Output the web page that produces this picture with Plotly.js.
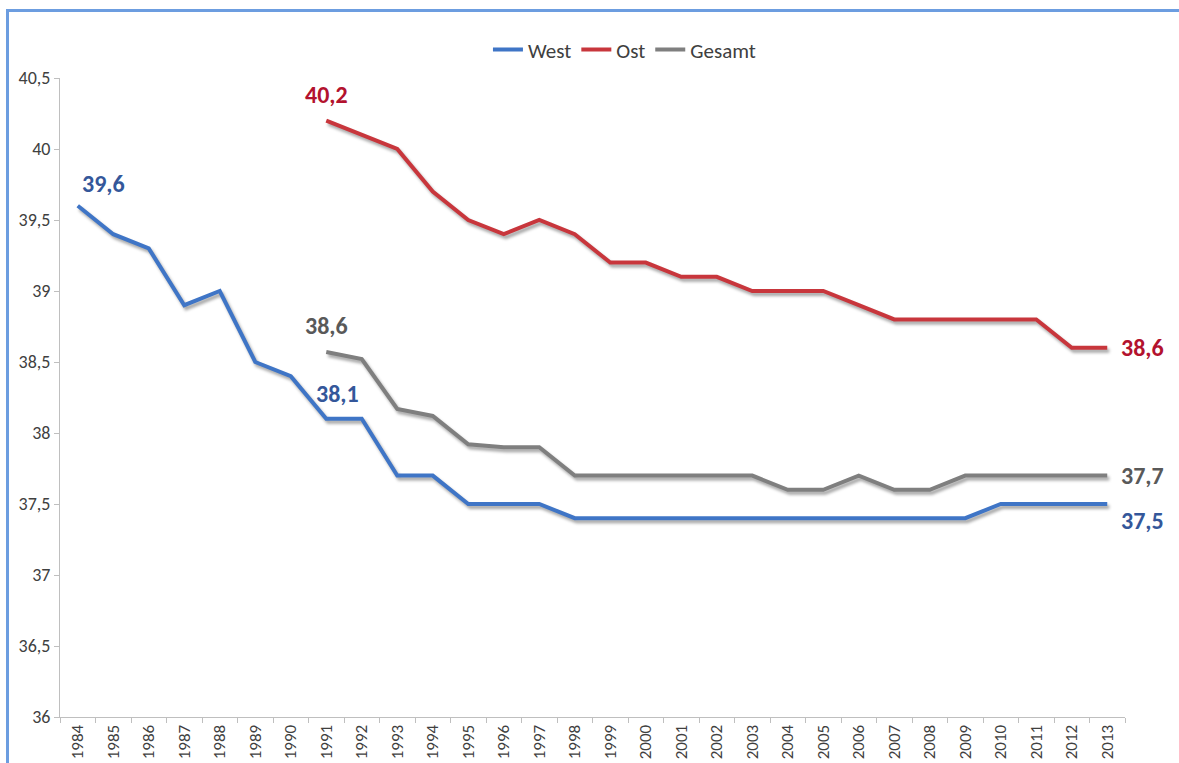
<!DOCTYPE html>
<html>
<head>
<meta charset="utf-8">
<script src="https://cdn.plot.ly/plotly-3.0.1.min.js"></script>
<style>
  html, body { margin: 0; padding: 0; background: #fff; overflow: hidden; }
  #wrap { position: relative; width: 1179px; height: 763px; }
  #chart { width: 1179px; height: 763px; }
  #frame { position: absolute; left: 6px; top: 9px; width: 1200px; height: 800px;
           border-top: 3px solid #6C9DE0; border-left: 3px solid #6C9DE0; pointer-events: none; }
  #chart .scatterlayer .js-line { filter: drop-shadow(2px 3px 1.5px rgba(0,0,0,0.35)); }
</style>
</head>
<body>
<div id="wrap">
  <div id="chart"></div>
  <div id="frame"></div>
</div>
<script>
const years = ['1984','1985','1986','1987','1988','1989','1990','1991','1992','1993','1994','1995','1996','1997','1998','1999','2000','2001','2002','2003','2004','2005','2006','2007','2008','2009','2010','2011','2012','2013'];
const west = [39.6,39.4,39.3,38.9,39.0,38.5,38.4,38.1,38.1,37.7,37.7,37.5,37.5,37.5,37.4,37.4,37.4,37.4,37.4,37.4,37.4,37.4,37.4,37.4,37.4,37.4,37.5,37.5,37.5,37.5];
const ost = [null,null,null,null,null,null,null,40.2,40.1,40.0,39.7,39.5,39.4,39.5,39.4,39.2,39.2,39.1,39.1,39.0,39.0,39.0,38.9,38.8,38.8,38.8,38.8,38.8,38.6,38.6];
const gesamt = [null,null,null,null,null,null,null,38.57,38.52,38.17,38.12,37.92,37.9,37.9,37.7,37.7,37.7,37.7,37.7,37.7,37.6,37.6,37.7,37.6,37.6,37.7,37.7,37.7,37.7,37.7];
const seriesNames = ['West','Ost','Gesamt'];
const lineColors = ['#3F75C6','#C8363C','#7F7F7F'];
const labelColors = ['#34579A','#B3122E','#595959'];
const yTicks = [36,36.5,37,37.5,38,38.5,39,39.5,40,40.5];

const fontFam = 'Carlito, Lato, "Open Sans", sans-serif';
const fmt = v => (Math.round(v*10)/10).toFixed(1).replace('.', ',');

const allData = [west, ost, gesamt];
const traces = allData.map((d, i) => ({
  x: years, y: d, name: seriesNames[i], type: 'scatter', mode: 'lines',
  line: {color: lineColors[i], width: 4}, connectgaps: false, hoverinfo: 'x+y'
}));

function firstIdx(a){ return a.findIndex(v => v !== null); }
const lastIdx = years.length - 1;
const labelSpecs = [
  {s:0, i:firstIdx(west),  xa:'center', xs:26, ys:22},
  {s:0, i:years.indexOf('1991'), xa:'center', xs:11, ys:25},
  {s:0, i:lastIdx, xa:'left', xs:12, ys:-16},
  {s:1, i:firstIdx(ost), xa:'center', xs:0, ys:26},
  {s:1, i:lastIdx, xa:'left', xs:12, ys:0},
  {s:2, i:firstIdx(gesamt), xa:'center', xs:0, ys:27},
  {s:2, i:lastIdx, xa:'left', xs:12, ys:0}
];
// category axis: annotation x given as category index
const annotations = labelSpecs.map(sp => ({
  x: sp.i, y: allData[sp.s][sp.i], xref: 'x', yref: 'y',
  text: '<b>' + fmt(allData[sp.s][sp.i]) + '</b>', showarrow: false,
  xanchor: sp.xa, yanchor: 'middle', xshift: sp.xs, yshift: sp.ys,
  font: {family: fontFam, size: 24, color: labelColors[sp.s]}
}));

const layout = {
  width: 1179, height: 763,
  margin: {l: 60, r: 54, t: 78, b: 46},
  paper_bgcolor: '#fff', plot_bgcolor: '#fff',
  separators: ',.',
  font: {family: fontFam, size: 16, color: '#404040'},
  showlegend: true,
  legend: {orientation: 'h', x: 0.53, xanchor: 'center', y: 1.044, yanchor: 'middle',
           font: {family: fontFam, size: 21, color: '#404040'}, itemwidth: 30, tracegroupgap: 0},
  xaxis: {type: 'category', range: [-0.5, 29.5], showgrid: false, zeroline: false,
          showline: true, linecolor: '#BFBFBF', linewidth: 1,
          ticks: 'outside', tickson: 'boundaries', ticklen: 5, tickcolor: '#BFBFBF',
          tickangle: -90, tickfont: {family: fontFam, size: 17, color: '#404040'}, fixedrange: true},
  yaxis: {range: [36, 40.5], tickvals: yTicks, showgrid: false, zeroline: false,
          showline: true, linecolor: '#BFBFBF', linewidth: 1,
          ticks: 'outside', ticklen: 5, tickcolor: '#BFBFBF',
          tickfont: {family: fontFam, size: 18, color: '#404040'}, fixedrange: true},
  annotations: annotations
};
Plotly.newPlot('chart', traces, layout, {displayModeBar: false, staticPlot: true});
</script>
</body>
</html>
